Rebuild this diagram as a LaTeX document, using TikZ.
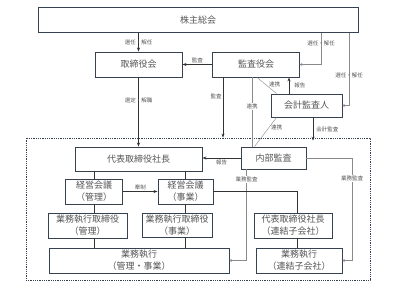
\documentclass[tikz,border=0pt]{standalone}
\usepackage{fontspec}
\setmainfont{Noto Sans CJK JP}
\usepackage{xcolor}
\usetikzlibrary{positioning,arrows.meta}

\definecolor{boxline}{HTML}{36424F}
\definecolor{boxtext}{HTML}{555555}
\definecolor{mainline}{HTML}{333333}
\definecolor{subline}{HTML}{8A8A8A}

\begin{document}
\begin{tikzpicture}[
    x=1pt, y=-1pt,
    org/.style={
        rectangle,
        draw=boxline,
        line width=0.9pt,
        fill=white,
        align=center,
        text=boxtext,
        inner sep=0pt,
        font=\fontsize{9}{12}\selectfont
    },
    frame/.style={
        rectangle,
        draw=boxline,
        densely dotted,
        line width=0.8pt,
        inner sep=0pt
    },
    arrow/.style={
        -{Stealth[length=4pt,width=3pt]},
        line width=0.8pt,
        draw=mainline
    },
    link/.style={
        line width=0.9pt,
        draw=mainline
    },
    thinarrow/.style={
        -{Straight Barb[length=2pt,width=3pt]},
        line width=0.4pt,
        draw=subline
    },
    thinline/.style={
        line width=0.4pt,
        draw=subline
    },
    tag/.style={
        font=\fontsize{5.5}{6}\selectfont,
        text=boxtext,
        inner sep=1pt
    }
]
\useasboundingbox (0,0) rectangle (393,295);

% Group frame
\node[frame, minimum width=344pt, minimum height=142pt] (group) at (198,209) {};

% Top level
\node[org, minimum width=320pt, minimum height=25pt] (soukai) at (198,20) {株主総会};
\node[org, minimum width=87pt, minimum height=25pt] (board) at (138.5,64.5) {取締役会};
\node[org, minimum width=87pt, minimum height=25pt] (kansa) at (256,64.5) {監査役会};
\node[org, minimum width=71pt, minimum height=23pt] (kaikei) at (306.5,105.5) {会計監査人};

% Inside the group
\node[org, minimum width=127pt, minimum height=24pt] (ceo) at (138.5,159) {代表取締役社長};
\node[org, minimum width=65pt, minimum height=22pt] (naibu) at (273.5,158) {内部監査};
\node[org, minimum width=57pt, minimum height=25pt] (keieiK) at (94,191.5) {経営会議\\（管理）};
\node[org, minimum width=55pt, minimum height=25pt] (keieiJ) at (185.5,191.5) {経営会議\\（事業）};
\node[org, minimum width=79pt, minimum height=25pt] (execK) at (87.5,225.5) {業務執行取締役\\（管理）};
\node[org, minimum width=70pt, minimum height=24pt] (execJ) at (177,225) {業務執行取締役\\（事業）};
\node[org, minimum width=180pt, minimum height=25pt] (ops) at (139,260.5) {業務執行\\（管理・事業）};
\node[org, minimum width=78pt, minimum height=25pt] (subceo) at (293,225.5) {代表取締役社長\\（連結子会社）};
\node[org, minimum width=86pt, minimum height=25pt] (subops) at (299,260.5) {業務執行\\（連結子会社）};

% Helper coordinates
\coordinate (subx) at (297,0);
\coordinate (auditR) at (352,158);

% Appointment
\draw[arrow] (soukai.south -| board) -- node[tag] {選任・解任} (board.north);
\draw[thinarrow] (soukai.south -| 321,0) |- node[tag, pos=0.17] {選任・解任} (kansa.east);
\draw[thinarrow] (soukai.south -| 349,0) |- node[tag, pos=0.29] {選任・解任} (kaikei.east);
\draw[arrow] (board.south) -- node[tag, pos=0.33] {選定・解職} (ceo.north);

% Audit
\draw[arrow] (kansa.west) -- node[tag, above] {監査} (board.east);
\draw[arrow] (kansa.south -| 223,0) -- node[tag, left, pos=0.32] {監査} (group.north -| 223,0);
\draw[arrow] (kaikei.north -| 289,0) -- node[tag, right=4pt] {報告} (kansa.south -| 289,0);
\draw[arrow] (kaikei.south -| 313,0) -- node[tag, right=2pt] {会計監査} ([yshift=-3pt]group.north -| 313,0);

% Cooperation
\draw[thinline] (kansa.south -| 252,0) -- node[tag, pos=0.42, fill=white] {連携} (naibu.north -| 252,0);
\draw[thinline] (kansa.south -| 257,0) -- node[tag, right=2pt, pos=0.45] {連携} ([xshift=6pt]kaikei.north west);
\draw[thinline] ([xshift=6pt]kaikei.south west) -- node[tag, right=1pt, pos=0.35] {連携} ([xshift=14pt]naibu.north west);

% Internal audit
\draw[arrow] (naibu.west) -- node[tag, below] {報告} (naibu.west -| ceo.east);
\draw[thinarrow] ([xshift=6pt]naibu.south west) |- node[tag, pos=0.055, fill=white] {業務監査} (ops.east);
\draw[thinline] (naibu.east) -- (auditR);
\draw[thinarrow] (auditR) |- node[tag, pos=0.1, fill=white] {業務監査} (subops.east);

% Management structure
\draw[link] (ceo.south -| keieiK) -- (keieiK.north);
\draw[link] (ceo.south -| keieiJ) -- (keieiJ.north);
\draw[arrow] (keieiK.east) -- node[tag, above] {牽制} (keieiJ.west);
\draw[link] (keieiK.south) -- (execK.north -| keieiK);
\draw[link] (execK.south -| keieiK) -- (ops.north -| keieiK);
\draw[link] (keieiJ.south) -- (execJ.north -| keieiJ);
\draw[link] (execJ.south -| keieiJ) -- (ops.north -| keieiJ);
\draw[link] (keieiJ.east) -| (subceo.north -| subx);
\draw[link] (subceo.south -| subx) -- (subops.north -| subx);

\end{tikzpicture}
\end{document}
